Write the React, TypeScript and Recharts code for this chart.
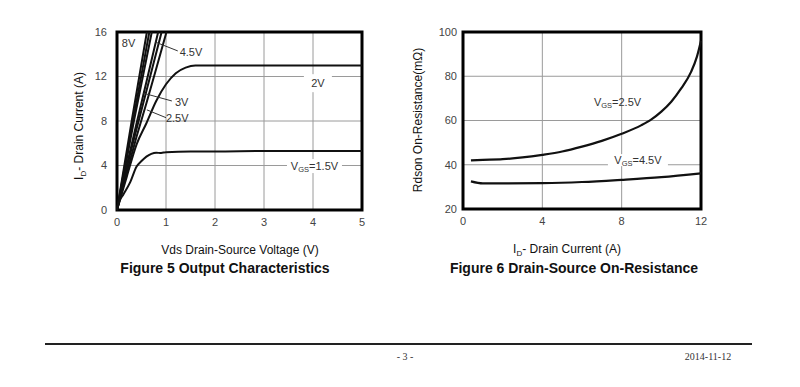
import React from "react";
import {
  LineChart,
  Line,
  XAxis,
  YAxis,
  CartesianGrid,
  ReferenceArea,
  ReferenceLine,
  ReferenceDot,
} from "recharts";

// Figure 5: output characteristics, Id (A) vs Vds (V)
const vds8 = [{ x: 0, y: 0 }, { x: 0.3, y: 8 }, { x: 0.61, y: 16 }];
const vds6 = [{ x: 0, y: 0 }, { x: 0.33, y: 8.1 }, { x: 0.66, y: 16 }];
const vds5 = [{ x: 0, y: 0 }, { x: 0.35, y: 8.1 }, { x: 0.71, y: 16 }];
const vds45 = [{ x: 0, y: 0 }, { x: 0.2, y: 4.0 }, { x: 0.4, y: 7.8 }, { x: 0.6, y: 11.5 }, { x: 0.84, y: 16 }];
const vds3 = [{ x: 0, y: 0 }, { x: 0.2, y: 3.8 }, { x: 0.4, y: 7.3 }, { x: 0.6, y: 10.7 }, { x: 0.91, y: 16 }];
const vds25 = [{ x: 0, y: 0 }, { x: 0.2, y: 3.4 }, { x: 0.4, y: 6.6 }, { x: 0.6, y: 9.6 }, { x: 0.8, y: 12.7 }, { x: 1.01, y: 16 }];
const vds2 = [
  { x: 0, y: 0 }, { x: 0.1, y: 1.5 }, { x: 0.2, y: 3.0 }, { x: 0.4, y: 5.9 }, { x: 0.6, y: 7.8 },
  { x: 0.8, y: 9.8 }, { x: 1.0, y: 11.3 }, { x: 1.2, y: 12.3 }, { x: 1.4, y: 12.8 }, { x: 1.6, y: 13 },
  { x: 2, y: 13 }, { x: 3, y: 13 }, { x: 4, y: 13 }, { x: 5, y: 13 },
];
const vds15 = [
  { x: 0, y: 0 }, { x: 0.05, y: 0.8 }, { x: 0.13, y: 1.4 }, { x: 0.27, y: 2.5 }, { x: 0.4, y: 3.9 },
  { x: 0.5, y: 4.4 }, { x: 0.6, y: 4.8 }, { x: 0.7, y: 5.05 }, { x: 0.8, y: 5.15 }, { x: 0.9, y: 5.12 },
  { x: 1.0, y: 5.2 }, { x: 1.5, y: 5.25 }, { x: 2, y: 5.25 }, { x: 3, y: 5.3 }, { x: 4, y: 5.3 }, { x: 5, y: 5.3 },
];
const fig5Series = [vds8, vds6, vds5, vds45, vds3, vds25, vds2, vds15];
const fig5XTicks = [0, 1, 2, 3, 4, 5];
const fig5YTicks = [0, 4, 8, 12, 16];

// Figure 6: Rdson (mOhm) vs Id (A)
const rds25 = [
  { x: 0.4, y: 42 }, { x: 1, y: 42.2 }, { x: 2, y: 42.5 }, { x: 3, y: 43.3 }, { x: 4, y: 44.5 },
  { x: 5, y: 46 }, { x: 6, y: 48.2 }, { x: 7, y: 50.8 }, { x: 8, y: 54 }, { x: 9, y: 57.9 },
  { x: 9.5, y: 60.5 }, { x: 10, y: 64 }, { x: 10.5, y: 68.5 }, { x: 11, y: 74.5 }, { x: 11.5, y: 82 },
  { x: 11.8, y: 89 }, { x: 12, y: 96 },
];
const rds45 = [
  { x: 0.4, y: 32.5 }, { x: 1, y: 31.6 }, { x: 2, y: 31.6 }, { x: 4, y: 31.7 }, { x: 6, y: 32.2 },
  { x: 8, y: 33.2 }, { x: 10, y: 34.4 }, { x: 12, y: 36.1 },
];
const fig6XTicks = [0, 4, 8, 12];
const fig6YTicks = [20, 40, 60, 80, 100];

const SANS = '"Liberation Sans", Arial, sans-serif';
const SERIF = '"Liberation Serif", "Times New Roman", serif';
const tickStyle = { fontSize: 11, fill: "#444", fontFamily: SANS };

const annot = (pre: string, sub: string, post: string, bw = 0, bh = 0) =>
  (props: any) => {
    const vb = props.viewBox || {};
    const cx = (vb.x || 0) + (vb.width || 0) / 2;
    const cy = (vb.y || 0) + (vb.height || 0) / 2;
    return (
      <g>
        {bw > 0 && <rect x={cx - bw / 2} y={cy - bh / 2} width={bw} height={bh} fill="#fff" />}
        <text x={cx} y={cy + 4} textAnchor="middle" fontSize={11} fill="#333" fontFamily={SANS}>
          {pre}
          {sub && (
            <tspan fontSize={7.5} dy={2}>
              {sub}
            </tspan>
          )}
          {sub && <tspan dy={-2}>{post}</tspan>}
          {!sub && post}
        </text>
      </g>
    );
  };

const Abs: React.FC<{ x: number; y: number; rot?: boolean; style?: React.CSSProperties; children: React.ReactNode }> = ({
  x, y, rot, style, children,
}) => (
  <div
    style={{
      position: "absolute",
      left: x,
      top: y,
      transform: `translate(-50%, -50%)${rot ? " rotate(-90deg)" : ""}`,
      whiteSpace: "nowrap",
      lineHeight: 1,
      fontFamily: SANS,
      fontSize: 12,
      color: "#111",
      ...style,
    }}
  >
    {children}
  </div>
);

const Sub: React.FC<{ children: React.ReactNode }> = ({ children }) => (
  <span style={{ fontSize: 8, verticalAlign: -3 }}>{children}</span>
);

const Dot = (x: number, y: number, content: any) => (
  <ReferenceDot x={x} y={y} r={0} fill="none" stroke="none" label={content} />
);

export default function App() {
  return (
    <div style={{ position: "absolute", left: 0, top: 0, width: 800, height: 387, background: "#fff" }}>
      <div style={{ position: "absolute", left: 0, top: 0 }}>
        <LineChart width={380} height={260} margin={{ top: 32, right: 18, left: 57, bottom: 20 }}>
          <CartesianGrid stroke="#9a9a9a" strokeWidth={1} />
          <XAxis
            type="number"
            dataKey="x"
            domain={[0, 5]}
            ticks={fig5XTicks}
            axisLine={false}
            tickLine={false}
            tick={tickStyle}
            height={30}
          />
          <YAxis
            type="number"
            domain={[0, 16]}
            ticks={fig5YTicks}
            axisLine={false}
            tickLine={false}
            tick={tickStyle}
            tickMargin={4}
            width={60}
          />
          {Dot(4.1, 11.4, annot("2V", "", "", 28, 18))}
          {Dot(4.03, 3.95, annot("V", "GS", "=1.5V", 55, 14))}
          {fig5Series.map((pts, i) => (
            <Line
              key={`v-${i}`}
              data={pts}
              dataKey="y"
              type="monotone"
              stroke="#111"
              strokeWidth={2}
              dot={false}
              isAnimationActive={false}
            />
          ))}
          <ReferenceLine segment={[{ x: 0.78, y: 15.1 }, { x: 1.24, y: 14.3 }]} stroke="#333" />
          <ReferenceLine segment={[{ x: 0.54, y: 10.5 }, { x: 1.12, y: 9.8 }]} stroke="#333" />
          <ReferenceLine segment={[{ x: 0.61, y: 9.0 }, { x: 1.0, y: 8.3 }]} stroke="#333" />
          {Dot(0.235, 15.0, annot("8V", "", ""))}
          {Dot(1.51, 14.2, annot("4.5V", "", ""))}
          {Dot(1.32, 9.7, annot("3V", "", ""))}
          {Dot(1.23, 8.3, annot("2.5V", "", ""))}
          <ReferenceArea x1={0} x2={5} y1={0} y2={16} fill="none" stroke="#000" strokeWidth={3} />
        </LineChart>
      </div>

      <div style={{ position: "absolute", left: 400, top: 0 }}>
        <LineChart width={330} height={260} margin={{ top: 32, right: 29, left: 13, bottom: 21 }}>
          <CartesianGrid stroke="#9a9a9a" strokeWidth={1} />
          <XAxis
            type="number"
            dataKey="x"
            domain={[0, 12]}
            ticks={fig6XTicks}
            axisLine={false}
            tickLine={false}
            tick={tickStyle}
            height={30}
          />
          <YAxis
            type="number"
            domain={[20, 100]}
            ticks={fig6YTicks}
            axisLine={false}
            tickLine={false}
            tick={tickStyle}
            tickMargin={0}
            width={50}
          />
          {Dot(7.79, 68.4, annot("V", "GS", "=2.5V"))}
          {Dot(8.82, 42.1, annot("V", "GS", "=4.5V", 60, 12))}
          <Line data={rds25} dataKey="y" type="monotone" stroke="#111" strokeWidth={2.2} dot={false} isAnimationActive={false} />
          <Line data={rds45} dataKey="y" type="monotone" stroke="#111" strokeWidth={2.2} dot={false} isAnimationActive={false} />
          <ReferenceArea x1={0} x2={12} y1={20} y2={100} fill="none" stroke="#000" strokeWidth={3} />
        </LineChart>
      </div>

      <Abs x={80} y={126} rot>
        I<Sub>D</Sub>- Drain Current (A)
      </Abs>
      <Abs x={240} y={250}>Vds Drain-Source Voltage (V)</Abs>
      <Abs x={225} y={268} style={{ fontWeight: "bold", fontSize: 14 }}>
        Figure 5 Output Characteristics
      </Abs>

      <Abs x={418} y={120} rot>
        Rdson On-Resistance(mΩ)
      </Abs>
      <Abs x={567} y={250}>
        I<Sub>D</Sub>- Drain Current (A)
      </Abs>
      <Abs x={574} y={268} style={{ fontWeight: "bold", fontSize: 14 }}>
        Figure 6 Drain-Source On-Resistance
      </Abs>

      <div style={{ position: "absolute", left: 45, top: 343, width: 707, height: 2, background: "#222" }} />
      <Abs x={405} y={357} style={{ fontFamily: SERIF, fontSize: 10, color: "#333" }}>
        - 3 -
      </Abs>
      <Abs x={708} y={357} style={{ fontFamily: SERIF, fontSize: 10, color: "#333" }}>
        2014-11-12
      </Abs>
    </div>
  );
}
